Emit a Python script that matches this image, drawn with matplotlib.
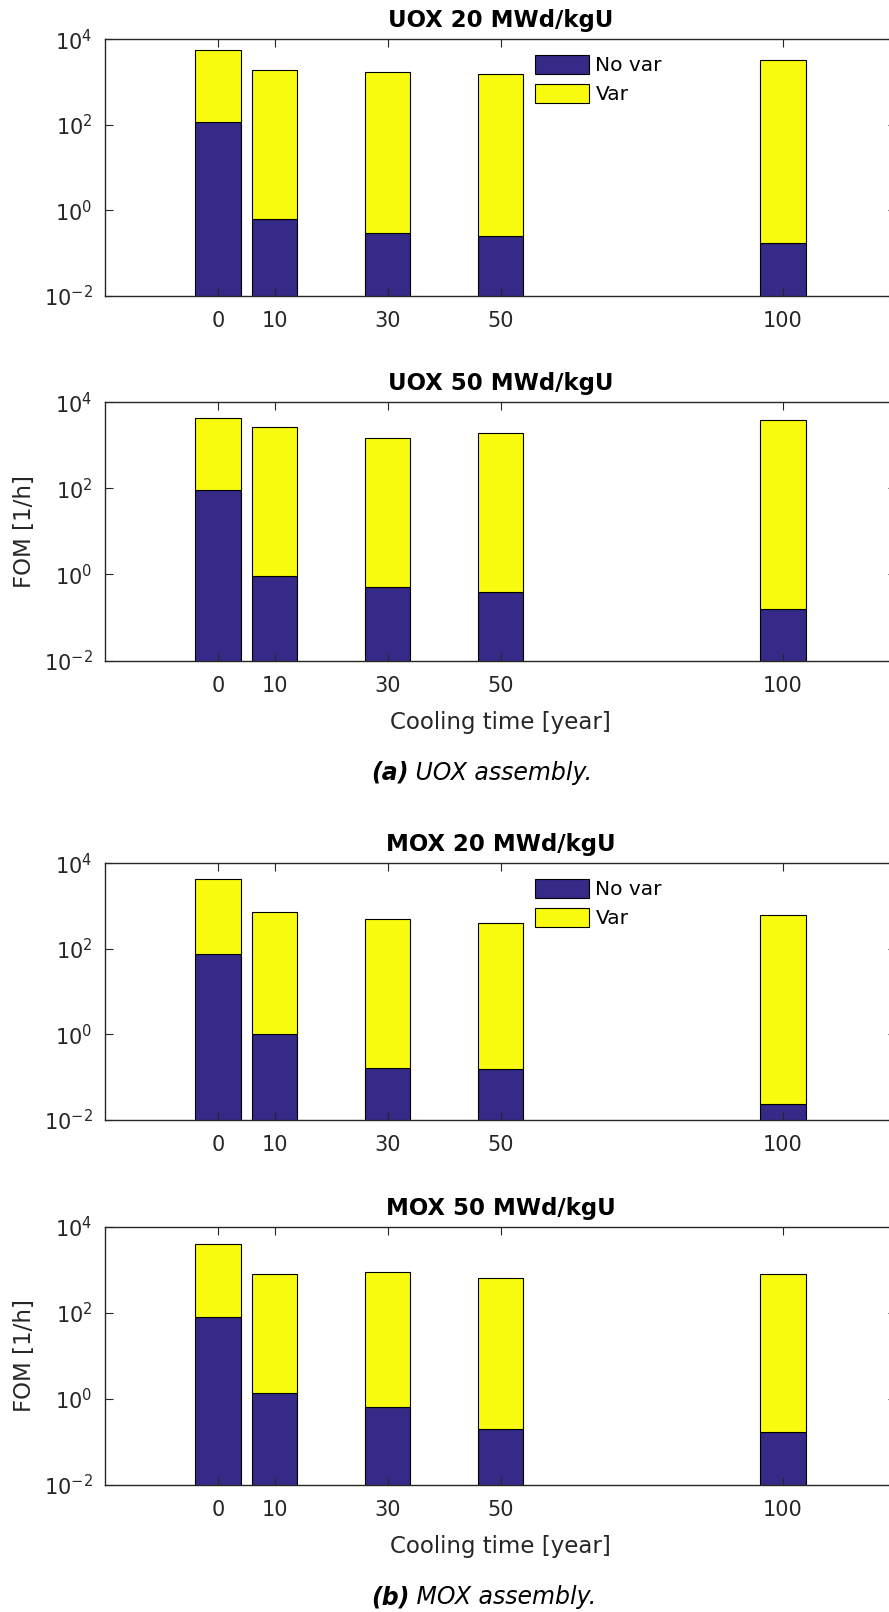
import numpy as np
import matplotlib
matplotlib.use("Agg")
import matplotlib.pyplot as plt

# cooling times [year]
cooling = [0, 10, 30, 50, 100]
tick_labels = ["0", "10", "30", "50", "100"]

# FOM values [1/h]: "No var" part and top of stacked bar
uox20_novar = [117, 0.63, 0.30, 0.25, 0.17]
uox20_total = [5600, 1950, 1750, 1570, 3290]
uox50_novar = [91, 0.90, 0.51, 0.40, 0.156]
uox50_total = [4400, 2670, 1510, 1940, 3950]
mox20_novar = [77, 1.03, 0.166, 0.155, 0.024]
mox20_total = [4240, 747, 486, 392, 603]
mox50_novar = [81, 1.38, 0.65, 0.197, 0.165]
mox50_total = [3950, 818, 880, 649, 818]

titles = ["UOX 20 MWd/kgU", "UOX 50 MWd/kgU", "MOX 20 MWd/kgU", "MOX 50 MWd/kgU"]
novars = [uox20_novar, uox50_novar, mox20_novar, mox50_novar]
totals = [uox20_total, uox50_total, mox20_total, mox50_total]

blue = "#352A87"
yellow = "#F9FB0E"
grey = "#262626"

W, H = 889, 1612
fig = plt.figure(figsize=(W / 100, H / 100), dpi=100)

# pixel layout of the four panels (top, bottom)
panels = [(39.3, 296), (402.3, 660.5), (863.3, 1120), (1227, 1484.5)]
left, right = 105, 896

axes = []
for k in range(4):
    top, bot = panels[k]
    ax = fig.add_axes([left / W, 1 - bot / H, (right - left) / W, (bot - top) / H])
    novar = np.array(novars[k])
    total = np.array(totals[k])
    ax.bar(cooling, novar, width=8, color=blue, edgecolor="k", linewidth=0.8, label="No var")
    ax.bar(cooling, total - novar, bottom=novar, width=8, color=yellow,
           edgecolor="k", linewidth=0.8, label="Var")
    ax.set_yscale("log")
    ax.set_ylim(1e-2, 1e4)
    ax.set_xlim(-20, 120)
    ax.set_yticks([1e-2, 1e0, 1e2, 1e4])
    ax.yaxis.set_minor_locator(matplotlib.ticker.NullLocator())
    ax.set_xticks(cooling)
    ax.set_xticklabels(tick_labels)
    ax.tick_params(direction="in", top=True, right=True, length=5.5, width=0.8,
                   colors=grey, labelsize=15)
    ax.tick_params(axis="x", pad=11)
    ax.tick_params(axis="y", pad=9)
    for s in ax.spines.values():
        s.set_color(grey)
        s.set_linewidth(1.0)
    ax.set_title(titles[k], fontsize=16.5, fontweight="bold", pad=9)
    if k in (0, 2):
        ax.legend(loc="upper left", bbox_to_anchor=(0.5436, 0.939), frameon=False,
                  fontsize=14.5, handlelength=2.7, handleheight=1.1,
                  handletextpad=0.3, labelspacing=0.4, borderpad=0, borderaxespad=0)
    if k in (1, 3):
        ax.set_xlabel("Cooling time [year]", fontsize=16.5, color=grey, va="center")
        ax.xaxis.set_label_coords(0.5, -62.5 / (bot - top))
        ax.set_ylabel("FOM [1/h]", fontsize=16.5, color=grey, va="center")
        ax.yaxis.set_label_coords((25 - left) / (right - left), 0.5)
    axes.append(ax)

# sub-figure captions
for tag, rest, ycap in [("(a)", " UOX assembly.", 772.7), ("(b)", " MOX assembly.", 1597)]:
    t1 = fig.text(371 / W, 1 - ycap / H, tag, fontsize=17, fontweight="bold",
                  style="italic", ha="left", va="center")
    axes[0].annotate(rest, xy=(1, 0), xycoords=t1, fontsize=17, style="italic",
                     ha="left", va="bottom", annotation_clip=False)

fig.savefig("out.png", dpi=100)
